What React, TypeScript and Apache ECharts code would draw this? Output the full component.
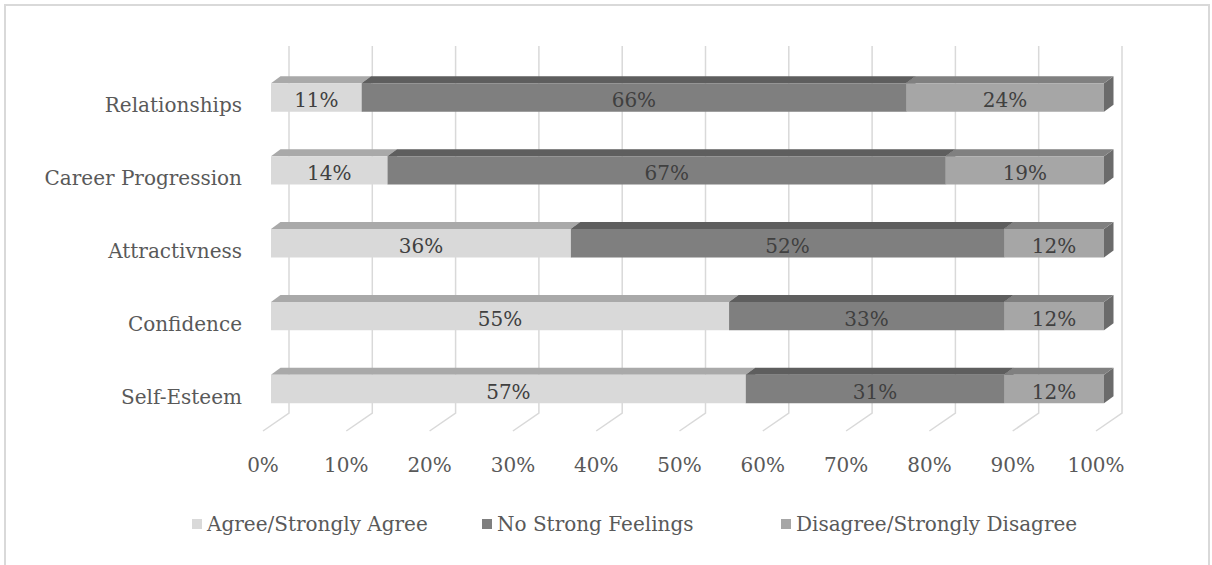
import React, { useEffect, useRef } from "react";
import * as echarts from "echarts";

const categories = ["Relationships", "Career Progression", "Attractivness", "Confidence", "Self-Esteem"];
const agree = [11, 14, 36, 55, 57];
const noStrong = [66, 67, 52, 33, 31];
const disagree = [24, 19, 12, 12, 12];
const seriesNames = ["Agree/Strongly Agree", "No Strong Feelings", "Disagree/Strongly Disagree"];
const xTicks = [0, 10, 20, 30, 40, 50, 60, 70, 80, 90, 100];

const FONT = '"DejaVu Serif", serif';
const frontColors = ["#d9d9d9", "#7f7f7f", "#a6a6a6"];
const topColors = ["#a9a9a9", "#5e5e5e", "#808080"];
const sideColors = ["#9a9a9a", "#565656", "#6b6b6b"];
const legendLefts = [187, 477, 776];

const DX = 9.5;
const DY = 7;

export default function App() {
  const ref = useRef<HTMLDivElement>(null);

  useEffect(() => {
    if (!ref.current) return;
    const chart = echarts.init(ref.current, undefined, { renderer: "svg" });

    const allSeries = [agree, noStrong, disagree];
    const totals = categories.map((_, i) => agree[i] + noStrong[i] + disagree[i]);
    const segData = allSeries.map((vals, si) =>
      vals.map((v, ci) => {
        let before = 0;
        for (let k = 0; k < si; k++) before += allSeries[k][ci];
        const s = (before / totals[ci]) * 100;
        const e = ((before + v) / totals[ci]) * 100;
        return [s, e, ci, v];
      })
    );

    const barSeries = segData.map((data, si) => ({
      type: "custom",
      name: seriesNames[si],
      data,
      encode: { x: [0, 1], y: 2 },
      clip: false,
      z: 3,
      itemStyle: { color: frontColors[si] },
      renderItem: (params: any, api: any) => {
        const s = api.value(0);
        const e = api.value(1);
        const ci = api.value(2);
        const raw = api.value(3);
        const p0 = api.coord([s, ci]);
        const p1 = api.coord([e, ci]);
        const band = api.size([0, 1])[1];
        const h = band * 0.39;
        const yTop = p0[1] - h / 2;
        const yBot = p0[1] + h / 2;
        const x0 = p0[0];
        const x1 = p1[0];
        return {
          type: "group",
          children: [
            {
              type: "polygon",
              shape: { points: [[x1, yTop], [x1 + DX, yTop - DY], [x1 + DX, yBot - DY], [x1, yBot]] },
              style: { fill: sideColors[si] },
            },
            {
              type: "polygon",
              shape: { points: [[x0, yTop], [x1, yTop], [x1 + DX, yTop - DY], [x0 + DX, yTop - DY]] },
              style: { fill: topColors[si] },
            },
            {
              type: "rect",
              shape: { x: x0, y: yTop, width: x1 - x0, height: h },
              style: { fill: frontColors[si] },
            },
            {
              type: "text",
              z2: 10,
              style: {
                text: raw + "%",
                x: (x0 + x1) / 2,
                y: p0[1] + 3,
                align: "center",
                verticalAlign: "middle",
                fill: "#404040",
                font: "20px " + FONT,
              },
            },
          ],
        };
      },
    }));

    const gridSeries = {
      type: "custom",
      name: "grid",
      data: xTicks.map((v) => [v, 0]),
      encode: { x: 0, y: 1 },
      clip: false,
      silent: true,
      z: 1,
      renderItem: (params: any, api: any) => {
        const cs = params.coordSys;
        const top = cs.y;
        const bottom = cs.y + cs.height;
        const x = api.coord([api.value(0), 0])[0];
        return {
          type: "polyline",
          shape: {
            points: [
              [x + 18, top - 15],
              [x + 18, bottom - 12.5],
              [x - 8, bottom + 5.5],
            ],
          },
          style: { stroke: "#d9d9d9", lineWidth: 1.5, fill: "none" },
        };
      },
    };

    chart.setOption({
      animation: false,
      backgroundColor: "#ffffff",
      grid: { left: 271, right: 108, top: 61, bottom: 139.5, containLabel: false },
      legend: seriesNames.map((name, i) => ({
        data: [name],
        left: legendLefts[i],
        top: 509,
        icon: "rect",
        itemWidth: 10,
        itemHeight: 10,
        itemGap: 0,
        selectedMode: false,
        textStyle: { fontFamily: FONT, fontSize: 20, color: "#595959" },
      })),
      xAxis: {
        type: "value",
        min: 0,
        max: 100,
        interval: 10,
        axisLine: { show: false },
        axisTick: { show: false },
        splitLine: { show: false },
        axisLabel: {
          formatter: "{value}%",
          fontFamily: FONT,
          fontSize: 20,
          color: "#595959",
          margin: 29,
          padding: [0, 16, 0, 0],
        },
      },
      yAxis: {
        type: "category",
        data: categories,
        inverse: true,
        axisLine: { show: false },
        axisTick: { show: false },
        splitLine: { show: false },
        axisLabel: {
          fontFamily: FONT,
          fontSize: 20,
          color: "#595959",
          margin: 29,
          verticalAlign: "top",
          lineHeight: 15,
        },
      },
      graphic: [
        {
          type: "rect",
          shape: { x: 5, y: 5, width: 1204, height: 620 },
          style: { fill: "none", stroke: "#d9d9d9", lineWidth: 2 },
          silent: true,
        },
      ],
      series: [gridSeries, ...barSeries],
    });

    return () => chart.dispose();
  }, []);

  return (
    <div
      ref={ref}
      style={{ position: "absolute", left: 0, top: 0, width: 1212, height: 565 }}
    />
  );
}
